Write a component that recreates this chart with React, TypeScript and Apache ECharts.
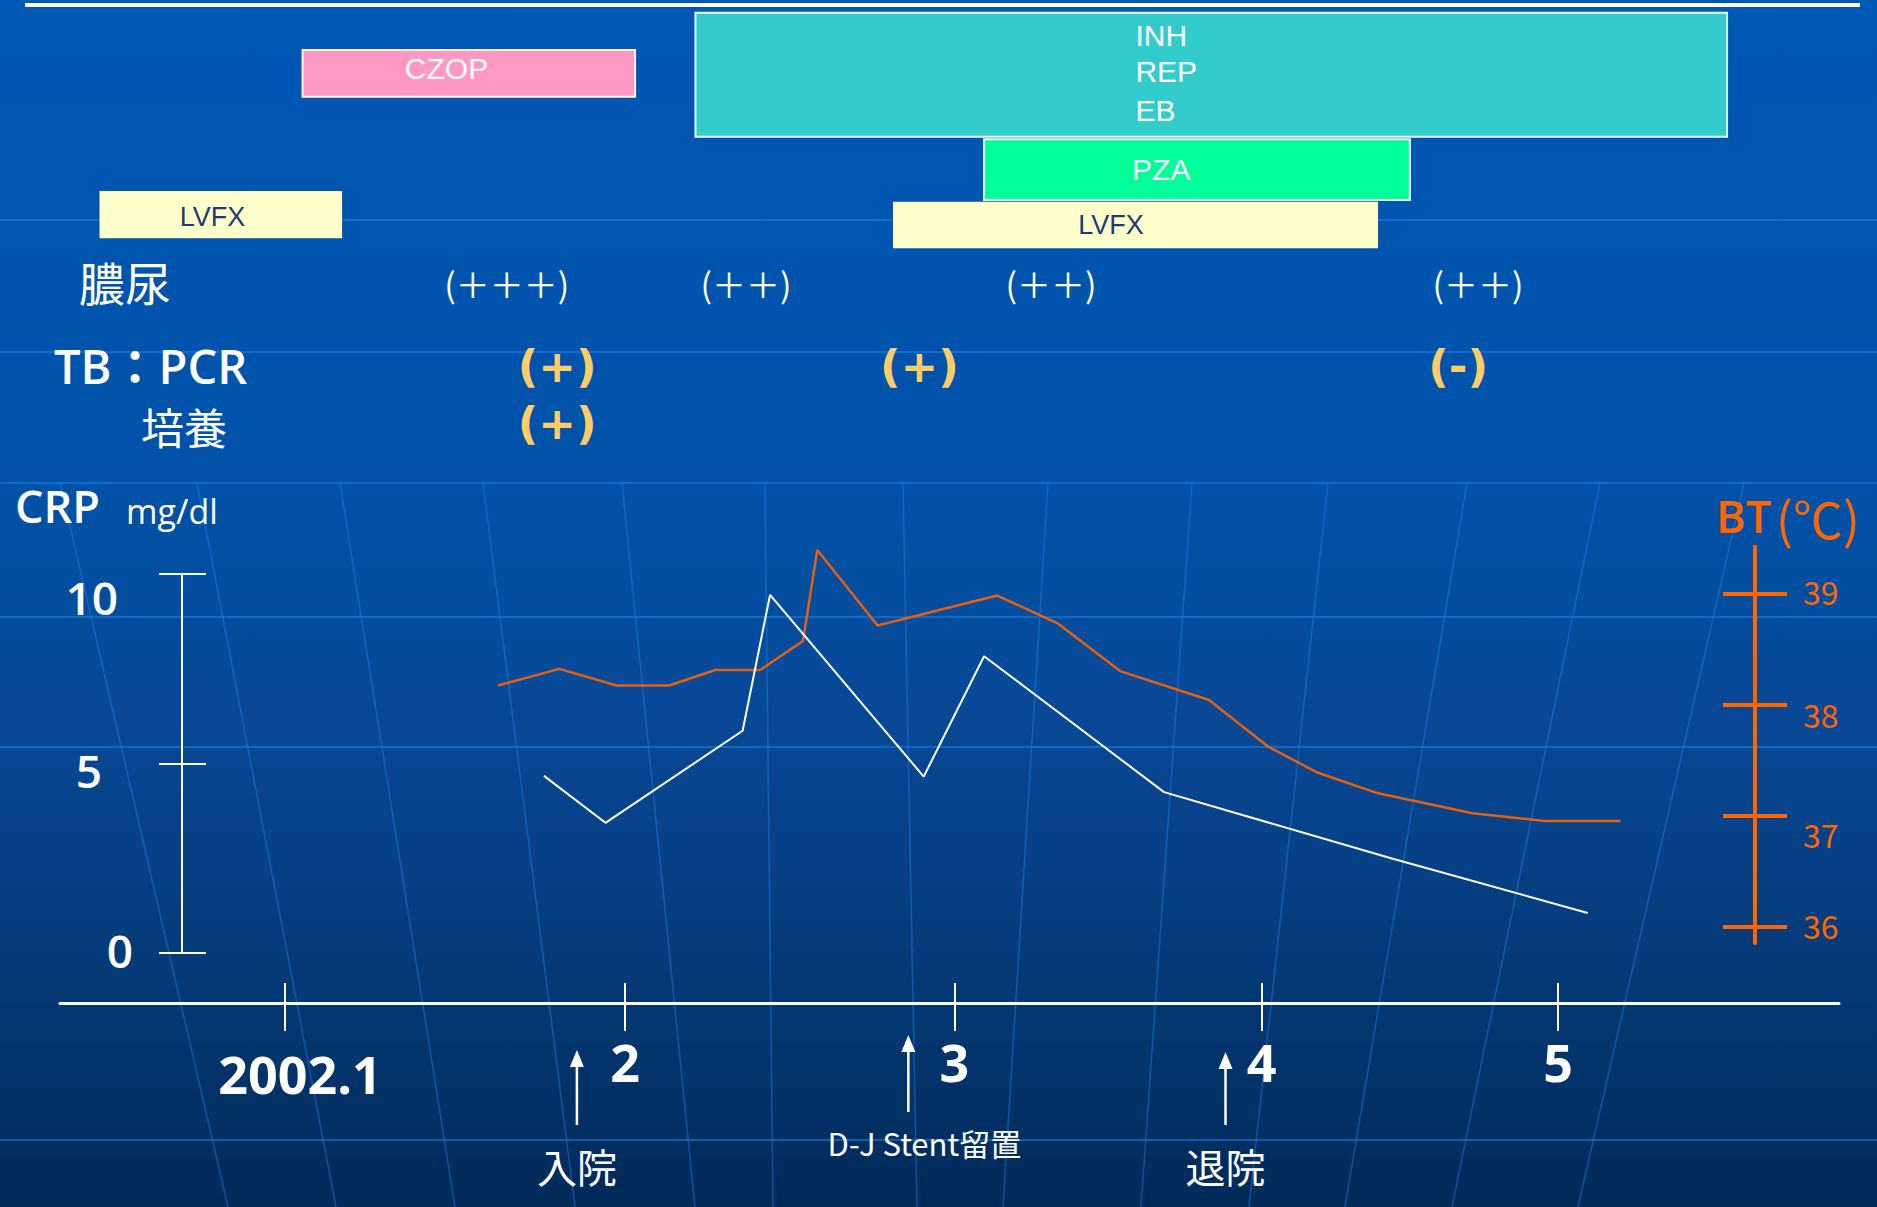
import React, { useEffect, useRef } from 'react';
import * as echarts from 'echarts';

// ---------------- data ----------------
// time axis: days counted from 2002-01-01
const X_MIN = -20.5;
const X_MAX = 141.6;
const MONTH_TICKS = [0, 31, 61, 89, 116];
const MONTH_LABELS = ['2002.1', '2', '3', '4', '5'];

// CRP (mg/dl)
const CRP_DAYS = [23.6, 29.2, 41.7, 44.2, 58.2, 63.7, 80.1, 100.7, 118.7];
const CRP_VALUES = [4.67, 3.43, 5.86, 9.45, 4.65, 7.83, 4.24, 2.5, 1.05];
const CRP_TICKS = [0, 5, 10];

// BT (°C)
const BT_DAYS = [19.4, 25.0, 30.2, 35.0, 39.2, 43.3, 47.2, 48.5, 54.0, 64.9, 70.4, 76.1, 84.2, 89.6, 94.0, 99.6, 108.2, 114.9, 121.7];
const BT_VALUES = [38.17, 38.32, 38.17, 38.17, 38.31, 38.31, 38.57, 39.39, 38.71, 38.98, 38.73, 38.30, 38.04, 37.62, 37.39, 37.20, 37.02, 36.95, 36.95];
const BT_TICKS = [36, 37, 38, 39];

// drugs (start / end day)
const DRUG_LABELS = [['LVFX'], ['CZOP'], ['INH', 'REP', 'EB'], ['PZA'], ['LVFX']];
const DRUG_START = [-16.9, 1.6, 37.4, 63.7, 55.4];
const DRUG_END = [5.2, 31.9, 131.4, 102.5, 99.6];

// test results
const PYURIA_DAYS = [20.2, 42.0, 69.8, 108.7];
const PYURIA = ['(＋＋＋)', '(＋＋)', '(＋＋)', '(＋＋)'];
const PCR_DAYS = [24.8, 57.8, 106.9];
const PCR = ['(+)', '(+)', '(-)'];
const CULTURE_DAYS = [24.8];
const CULTURE = ['(+)'];

// events
const EVENT_DAYS = [26.6, 56.8, 85.7];
const EVENT_LABELS = ['入院', 'D-J Stent留置', '退院'];

// ---------------- layout / style ----------------
const W = 1877;
const H = 1207;
const LATIN = "'Open Sans', 'DejaVu Sans', sans-serif";
const NARROW = "'Liberation Sans', 'Noto Sans', sans-serif";
const CJK = "'Noto Sans CJK JP', sans-serif";
const WHITE = '#FFFFFF';
const ORANGE = '#FF6600';
const LINE_ORANGE = '#E8600C';
const GOLD = '#FFCC66';

const GRID_L = 60;
const GRID_R = 1839;
const CRP_TOP = 574;
const CRP_BOTTOM = 952.7;
const XAXIS_Y = 1003;
const CRP_AXIS_X = 182;
const BT_AXIS_X = 1755;
const BT_TOP = 546.7;
const BT_BOTTOM = 943;
const BT39_Y = 593.3;
const BT36_Y = 926.7;
const BT_PX = (BT36_Y - BT39_Y) / 3;
const BT_DATA_MAX = 39 + (BT39_Y - CRP_TOP) / BT_PX;
const BT_DATA_MIN = 36 - (CRP_BOTTOM - BT36_Y) / BT_PX;
const BT_DISP_MAX = 39 + (BT39_Y - BT_TOP) / BT_PX;
const BT_DISP_MIN = 36 - (BT_BOTTOM - BT36_Y) / BT_PX;

const DRUG_LAYOUT = [
  { top: 191, h: 47.3, fill: '#FFFFCC', stroke: '', color: '#1F3A6E', align: 'center', tx: 113, ty: [217], fs: 27 },
  { top: 50, h: 46.7, fill: '#FF99C4', stroke: '#FFF4F8', color: WHITE, align: 'center', tx: 144, ty: [68], fs: 30 },
  { top: 12.7, h: 124, fill: '#33CCCC', stroke: '#E8FFFF', color: WHITE, align: 'left', tx: 440, ty: [35, 71, 110], fs: 30 },
  { top: 139.3, h: 60.7, fill: '#00FF99', stroke: '#F0FFF8', color: WHITE, align: 'left', tx: 148, ty: [169], fs: 30 },
  { top: 201.7, h: 46.6, fill: '#FFFFCC', stroke: '', color: '#1F3A6E', align: 'center', tx: 218, ty: [225], fs: 27 },
];

const RESULT_ROWS = [
  { days: PYURIA_DAYS, texts: PYURIA, y: 283, color: WHITE, font: CJK, size: 34, weight: 'normal' },
  { days: PCR_DAYS, texts: PCR, y: 366, color: GOLD, font: "'DejaVu Sans', sans-serif", size: 45, weight: 'bold' },
  { days: CULTURE_DAYS, texts: CULTURE, y: 423, color: GOLD, font: "'DejaVu Sans', sans-serif", size: 45, weight: 'bold' },
];

const EVENT_LAYOUT = [
  { tip: 1050, tail: 1125, textY: 1166, dx: 0, size: 40 },
  { tip: 1035, tail: 1112, textY: 1142, dx: 16, size: 31 },
  { tip: 1052, tail: 1125, textY: 1166, dx: 0, size: 40 },
];

const LATITUDES = [220, 352, 483, 617, 747, 1140];
const MERIDIAN_TOP = [60, 197, 340, 483, 622, 765, 903, 1048, 1192, 1328, 1467, 1600, 1744];
const MERIDIAN_BOTTOM = [228, 336, 455, 575, 695, 773, 917, 1003, 1141, 1249, 1345, 1452, 1578];

function buildOption(): any {
  const drugData = DRUG_START.map((s, i) => [s, DRUG_END[i], i]);
  const resultData: number[][] = [];
  RESULT_ROWS.forEach((r, ri) => r.days.forEach((d, k) => resultData.push([d, ri, k])));
  const eventData = EVENT_DAYS.map((d, i) => [d, i]);

  const graphics: any[] = [];
  LATITUDES.forEach((y) =>
    graphics.push({ type: 'line', z: -5, silent: true, shape: { x1: 0, y1: y, x2: W, y2: y }, style: { stroke: 'rgba(30,130,235,0.55)', lineWidth: 2 } })
  );
  MERIDIAN_TOP.forEach((x, i) =>
    graphics.push({ type: 'line', z: -5, silent: true, shape: { x1: x, y1: 483, x2: MERIDIAN_BOTTOM[i], y2: H }, style: { stroke: 'rgba(30,130,235,0.45)', lineWidth: 1.5 } })
  );
  graphics.push({ type: 'line', shape: { x1: 25, y1: 5, x2: 1860, y2: 5 }, style: { stroke: WHITE, lineWidth: 4 } });
  graphics.push({ type: 'text', x: 79, y: 281, style: { text: '膿尿', fill: WHITE, fontSize: 46, fontFamily: CJK, textAlign: 'left', textVerticalAlign: 'middle' } });
  graphics.push({ type: 'text', x: 54, y: 366, style: { text: 'TB：PCR', fill: WHITE, fontSize: 47, fontWeight: 600, fontFamily: LATIN + ", 'Noto Sans CJK JP'", textAlign: 'left', textVerticalAlign: 'middle' } });
  graphics.push({ type: 'text', x: 141, y: 426, style: { text: '培養', fill: WHITE, fontSize: 43, fontFamily: CJK, textAlign: 'left', textVerticalAlign: 'middle' } });
  graphics.push({ type: 'text', x: 15, y: 505, style: { text: 'CRP', fill: WHITE, fontSize: 45, fontWeight: 600, fontFamily: LATIN, textAlign: 'left', textVerticalAlign: 'middle' } });
  graphics.push({ type: 'text', x: 126, y: 511, style: { text: 'mg/dl', fill: WHITE, fontSize: 34, fontFamily: LATIN, textAlign: 'left', textVerticalAlign: 'middle' } });
  graphics.push({ type: 'text', x: 1716, y: 515, style: { text: 'BT', fill: ORANGE, fontSize: 45, fontWeight: 600, fontFamily: LATIN, textAlign: 'left', textVerticalAlign: 'middle' } });
  graphics.push({ type: 'text', x: 1776, y: 517, style: { text: '(℃)', fill: ORANGE, fontSize: 50, fontFamily: CJK, textAlign: 'left', textVerticalAlign: 'middle' } });

  const crpRich = {
    a: { fontSize: 46, fontWeight: 600, fontFamily: LATIN, color: WHITE, padding: [46, 15, 0, 0] },
    b: { fontSize: 46, fontWeight: 600, fontFamily: LATIN, color: WHITE, padding: [14, 31, 0, 0] },
    c: { fontSize: 46, fontWeight: 600, fontFamily: LATIN, color: WHITE, padding: [0, 0, 6, 0] },
  };
  const btRich = {
    a: { fontSize: 32, fontFamily: CJK, color: ORANGE, padding: [0, 0, 4, 0] },
    b: { fontSize: 32, fontFamily: CJK, color: ORANGE, padding: [20, 0, 0, 0] },
    c: { fontSize: 32, fontFamily: CJK, color: ORANGE, padding: [36, 0, 0, 0] },
  };
  const xRich = {
    a: { fontSize: 52, fontWeight: 'bold', fontFamily: LATIN, color: WHITE, padding: [12, 0, 0, 30] },
    b: { fontSize: 52, fontWeight: 'bold', fontFamily: LATIN, color: WHITE },
  };

  return {
    animation: false,
    backgroundColor: new echarts.graphic.LinearGradient(0, 0, 0, 1, [
      { offset: 0, color: '#0058B5' },
      { offset: 0.4, color: '#0052A8' },
      { offset: 0.6, color: '#084896' },
      { offset: 0.8, color: '#053A78' },
      { offset: 1, color: '#002A58' },
    ]),
    grid: [
      { left: GRID_L, top: CRP_TOP, width: GRID_R - GRID_L, height: CRP_BOTTOM - CRP_TOP, outerBoundsMode: 'none', containLabel: false },
      { left: GRID_L, top: XAXIS_Y - 100, width: GRID_R - GRID_L, height: 100, outerBoundsMode: 'none', containLabel: false },
      { left: BT_AXIS_X - 50, top: BT_TOP, width: 50, height: BT_BOTTOM - BT_TOP, outerBoundsMode: 'none', containLabel: false },
    ],
    xAxis: [
      { gridIndex: 0, type: 'value', min: X_MIN, max: X_MAX, show: false },
      {
        gridIndex: 1, type: 'value', min: X_MIN, max: X_MAX, position: 'bottom',
        axisLine: { show: true, onZero: false, lineStyle: { color: WHITE, width: 3 } },
        axisTick: { show: true, customValues: MONTH_TICKS, length: 28, lineStyle: { color: WHITE, width: 2 } },
        axisLabel: {
          show: true, customValues: MONTH_TICKS, margin: 32, color: WHITE, fontSize: 52,
          formatter: (v: number) => {
            const i = MONTH_TICKS.indexOf(v);
            const t = i >= 0 ? MONTH_LABELS[i] : '';
            return i === 0 ? `{a|${t}}` : `{b|${t}}`;
          },
          rich: xRich,
        },
        splitLine: { show: false },
      },
      {
        gridIndex: 1, type: 'value', min: X_MIN, max: X_MAX, position: 'bottom',
        axisLine: { show: false, onZero: false },
        axisTick: { show: true, inside: true, customValues: MONTH_TICKS, length: 20, lineStyle: { color: WHITE, width: 2 } },
        axisLabel: { show: false },
        splitLine: { show: false },
      },
      { gridIndex: 2, type: 'value', min: 0, max: 1, show: false },
    ],
    yAxis: [
      {
        gridIndex: 0, type: 'value', min: 0, max: 10, interval: 5, position: 'left', offset: -(CRP_AXIS_X - GRID_L),
        axisLine: { show: true, onZero: false, lineStyle: { color: WHITE, width: 2 } },
        axisTick: { show: true, length: 23, lineStyle: { color: WHITE, width: 2 } },
        axisLabel: {
          show: true, margin: 49, color: WHITE, fontSize: 46,
          formatter: (v: number) => (v === 10 ? '{a|10}' : v === 5 ? '{b|5}' : '{c|0}'),
          rich: crpRich,
        },
        splitLine: { show: false },
      },
      { gridIndex: 0, type: 'value', min: BT_DATA_MIN, max: BT_DATA_MAX, position: 'right', show: false },
      {
        gridIndex: 0, type: 'value', min: 0, max: 10, interval: 5, position: 'left', offset: -(CRP_AXIS_X - GRID_L),
        axisLine: { show: false, onZero: false },
        axisTick: { show: true, inside: true, length: 24, lineStyle: { color: WHITE, width: 2 } },
        axisLabel: { show: false },
        splitLine: { show: false },
      },
      { gridIndex: 1, type: 'value', min: 0, max: 1, show: false },
      {
        gridIndex: 2, type: 'value', min: BT_DISP_MIN, max: BT_DISP_MAX, position: 'right',
        axisLine: { show: true, onZero: false, lineStyle: { color: ORANGE, width: 4 } },
        axisTick: { show: true, customValues: BT_TICKS, length: 32, lineStyle: { color: ORANGE, width: 4 } },
        axisLabel: {
          show: true, customValues: BT_TICKS, margin: 48, color: ORANGE, fontSize: 32,
          formatter: (v: number) => (v === 38 ? `{b|${v}}` : v === 37 ? `{c|${v}}` : `{a|${v}}`),
          rich: btRich,
        },
        splitLine: { show: false },
      },
      {
        gridIndex: 2, type: 'value', min: BT_DISP_MIN, max: BT_DISP_MAX, position: 'right',
        axisLine: { show: false, onZero: false },
        axisTick: { show: true, inside: true, customValues: BT_TICKS, length: 32, lineStyle: { color: ORANGE, width: 4 } },
        axisLabel: { show: false },
        splitLine: { show: false },
      },
    ],
    graphic: graphics,
    series: [
      {
        type: 'custom', name: 'drugs', xAxisIndex: 0, yAxisIndex: 0, clip: false, silent: true,
        encode: { x: [0, 1], y: 2 },
        data: drugData,
        renderItem: (_p: any, api: any) => {
          const i = api.value(2);
          const x0 = api.coord([api.value(0), 0])[0];
          const x1 = api.coord([api.value(1), 0])[0];
          const L = DRUG_LAYOUT[i];
          const children: any[] = [
            {
              type: 'rect',
              shape: { x: x0, y: L.top, width: x1 - x0, height: L.h },
              style: { fill: L.fill, stroke: L.stroke || null, lineWidth: L.stroke ? 2 : 0 },
            },
          ];
          DRUG_LABELS[i].forEach((t, k) => {
            children.push({
              type: 'text', x: x0 + L.tx, y: L.ty[k],
              style: { text: t, fill: L.color, fontSize: L.fs, fontFamily: NARROW, align: L.align, verticalAlign: 'middle', textAlign: L.align, textVerticalAlign: 'middle' },
            });
          });
          return { type: 'group', children };
        },
      },
      {
        type: 'custom', name: 'results', xAxisIndex: 0, yAxisIndex: 0, clip: false, silent: true,
        encode: { x: 0, y: 1 },
        data: resultData,
        renderItem: (_p: any, api: any) => {
          const ri = api.value(1);
          const k = api.value(2);
          const x = api.coord([api.value(0), 0])[0];
          const R = RESULT_ROWS[ri];
          return {
            type: 'text', x, y: R.y,
            style: { text: R.texts[k], fill: R.color, fontSize: R.size, fontWeight: R.weight, fontFamily: R.font, align: 'center', verticalAlign: 'middle', textAlign: 'center', textVerticalAlign: 'middle' },
          };
        },
      },
      {
        type: 'custom', name: 'events', xAxisIndex: 0, yAxisIndex: 0, clip: false, silent: true,
        encode: { x: 0, y: 1 },
        data: eventData,
        renderItem: (_p: any, api: any) => {
          const i = api.value(1);
          const x = api.coord([api.value(0), 0])[0];
          const L = EVENT_LAYOUT[i];
          return {
            type: 'group',
            children: [
              { type: 'line', shape: { x1: x, y1: L.tail, x2: x, y2: L.tip + 12 }, style: { stroke: WHITE, lineWidth: 2.5 } },
              { type: 'polygon', shape: { points: [[x - 7, L.tip + 17], [x + 7, L.tip + 17], [x, L.tip]] }, style: { fill: WHITE } },
              {
                type: 'text', x: x + L.dx, y: L.textY,
                style: { text: EVENT_LABELS[i], fill: WHITE, fontSize: L.size, fontFamily: CJK, align: 'center', verticalAlign: 'middle', textAlign: 'center', textVerticalAlign: 'middle' },
              },
            ],
          };
        },
      },
      {
        type: 'line', name: 'BT', xAxisIndex: 0, yAxisIndex: 1, clip: false, silent: true,
        data: BT_DAYS.map((d, i) => [d, BT_VALUES[i]]),
        symbol: 'none', lineStyle: { color: LINE_ORANGE, width: 2.5 }, z: 4,
      },
      {
        type: 'line', name: 'CRP', xAxisIndex: 0, yAxisIndex: 0, clip: false, silent: true,
        data: CRP_DAYS.map((d, i) => [d, CRP_VALUES[i]]),
        symbol: 'none', lineStyle: { color: WHITE, width: 2 }, z: 5,
      },
    ],
  };
}

export default function App() {
  const ref = useRef<HTMLDivElement>(null);
  useEffect(() => {
    if (!ref.current) return;
    const chart = echarts.init(ref.current, null, { renderer: 'svg', width: W, height: H });
    chart.setOption(buildOption());
    return () => chart.dispose();
  }, []);
  return <div ref={ref} style={{ position: 'fixed', left: 0, top: 0, width: W, height: H }} />;
}
